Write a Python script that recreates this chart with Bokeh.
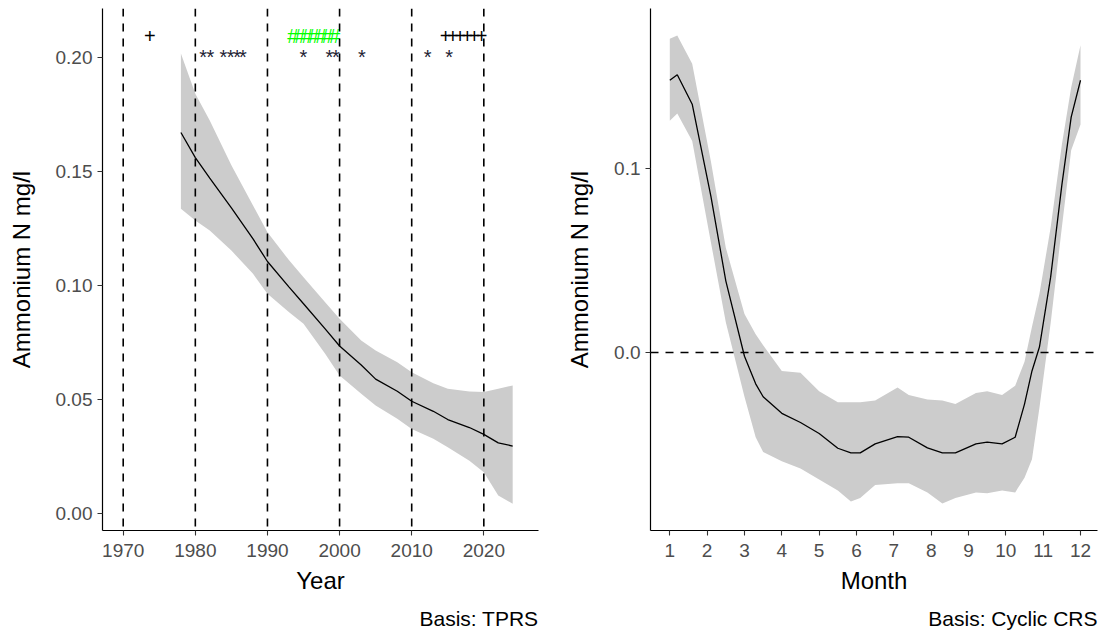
from bokeh.plotting import figure
from bokeh.layouts import row
from bokeh.models import Range1d, FixedTicker, Span, Title, NumeralTickFormatter
from bokeh.core.properties import value
from bokeh.embed import file_html
from bokeh.resources import INLINE

FONT = "Liberation Sans"

# ---------------- Left panel data (trend, Basis: TPRS) ----------------
years_fit = [1978, 1980, 1982, 1985, 1988, 1990, 1993, 1995, 1998, 2000,
             2003, 2005, 2008, 2010, 2013, 2015, 2018, 2020, 2022, 2024]
trend_fit = [0.167, 0.156, 0.147, 0.134, 0.1204, 0.1105, 0.0993, 0.092, 0.081, 0.0735,
             0.0652, 0.059, 0.0537, 0.0493, 0.0449, 0.0413, 0.0378, 0.0348, 0.0311, 0.0297]
trend_upper = [0.2016, 0.184, 0.1723, 0.1526, 0.135, 0.1233, 0.111, 0.1036, 0.0927, 0.0854,
               0.0759, 0.0715, 0.0664, 0.062, 0.0572, 0.0548, 0.0536, 0.0533, 0.0548, 0.0562]
trend_lower = [0.1336, 0.1285, 0.1241, 0.1153, 0.1051, 0.0964, 0.0883, 0.0832, 0.0701, 0.0606,
               0.0526, 0.0474, 0.0416, 0.0372, 0.0329, 0.0292, 0.0233, 0.0182, 0.008, 0.0044]

decade_lines = [1970, 1980, 1990, 2000, 2010, 2020]
year_ticks = [1970, 1980, 1990, 2000, 2010, 2020]

plus_years = [1973.7, 2014.7, 2015.7, 2016.7, 2017.7, 2018.7, 2019.7]
plus_level = 0.21
hash_years = [1993.5, 1994.5, 1995.5, 1996.4, 1997.4, 1998.3, 1999.3]
hash_level = 0.21
star_years = [1981.1, 1982.1, 1983.9, 1984.9, 1985.8, 1986.6, 1995.0,
              1998.6, 1999.5, 2003.1, 2012.2, 2015.2]
star_level = 0.20

left_y_ticks = [0.00, 0.05, 0.10, 0.15, 0.20]

# ---------------- Right panel data (season, Basis: Cyclic CRS) ----------------
months = [1.0, 1.2, 1.6, 2.1, 2.5, 3.0, 3.3, 3.5, 4.0, 4.5, 5.0, 5.5, 5.85, 6.1, 6.5,
          7.1, 7.4, 7.9, 8.3, 8.65, 9.2, 9.5, 9.9, 10.25, 10.5, 10.7, 10.9, 11.2, 11.5, 11.75, 12.0]
season_fit = [0.148, 0.151, 0.135, 0.085, 0.039, -0.002, -0.017, -0.024, -0.033, -0.038,
              -0.044, -0.052, -0.0545, -0.0545, -0.0496, -0.0457, -0.046, -0.0518, -0.0545,
              -0.0545, -0.0496, -0.0487, -0.0496, -0.046, -0.028, -0.010, 0.003, 0.041,
              0.091, 0.128, 0.148]
season_upper = [0.1705, 0.1723, 0.157, 0.104, 0.057, 0.021, 0.010, 0.004, -0.010, -0.011,
                -0.021, -0.027, -0.027, -0.027, -0.026, -0.019, -0.023, -0.0255, -0.026,
                -0.028, -0.022, -0.021, -0.023, -0.018, -0.005, 0.014, 0.032, 0.068,
                0.113, 0.144, 0.167]
season_lower = [0.126, 0.130, 0.115, 0.060, 0.0165, -0.024, -0.046, -0.054, -0.059, -0.063,
                -0.069, -0.075, -0.081, -0.079, -0.072, -0.071, -0.071, -0.076, -0.082,
                -0.079, -0.076, -0.0765, -0.075, -0.076, -0.068, -0.058, -0.030, 0.016,
                0.068, 0.110, 0.124]
month_ticks = [1, 2, 3, 4, 5, 6, 7, 8, 9, 10, 11, 12]
right_y_ticks = [0.0, 0.1]
zero_line = 0.0

BAND = "#CCCCCC"


def style(p):
    p.xgrid.visible = False
    p.ygrid.visible = False
    p.outline_line_color = None
    p.background_fill_color = "white"
    p.border_fill_color = "white"
    for ax in (p.xaxis[0], p.yaxis[0]):
        ax.axis_line_color = "black"
        ax.axis_line_width = 1.2
        ax.major_tick_line_color = "#333333"
        ax.major_tick_line_width = 1.1
        ax.major_tick_out = 5
        ax.major_tick_in = 0
        ax.minor_tick_line_color = None
        ax.major_label_text_font = FONT
        ax.major_label_text_font_size = "19px"
        ax.major_label_text_color = "#4D4D4D"
        ax.axis_label_text_font = FONT
        ax.axis_label_text_font_size = "24px"
        ax.axis_label_text_font_style = "normal"
        ax.axis_label_text_color = "black"
    p.xaxis[0].major_label_standoff = 8
    p.yaxis[0].major_label_standoff = 5
    p.xaxis[0].axis_label_standoff = 7
    p.yaxis[0].axis_label_standoff = 18


def caption(p, text):
    t = Title(text=text, align="right", text_font=FONT, text_font_size="21px",
              text_font_style="normal", text_color="black", standoff=16)
    p.add_layout(t, "below")


# ---------------- Left figure ----------------
p1 = figure(width=551, height=637, output_backend="svg", toolbar_location=None,
            x_range=Range1d(1967.13, 2027.58), y_range=Range1d(-0.0073, 0.2213),
            min_border_left=102, min_border_right=13, min_border_top=8, min_border_bottom=107)
style(p1)
p1.xaxis.axis_label = "Year"
p1.yaxis.axis_label = "Ammonium N mg/l"
p1.xaxis.ticker = FixedTicker(ticks=year_ticks)
p1.yaxis.ticker = FixedTicker(ticks=left_y_ticks)
p1.yaxis.formatter = NumeralTickFormatter(format="0.00")

p1.varea(x=years_fit, y1=trend_lower, y2=trend_upper, fill_color=BAND, fill_alpha=1.0)
for yr in decade_lines:
    p1.add_layout(Span(location=yr, dimension="height", line_color="black",
                       line_width=1.6, line_dash="8 7"))
p1.line(years_fit, trend_fit, line_color="black", line_width=1.3)

p1.text(x=plus_years, y=[plus_level] * len(plus_years), text=["+"] * len(plus_years),
        text_font=value(FONT), text_font_size="20px", text_align="center",
        text_baseline="middle", text_color="black", y_offset=2)
p1.text(x=hash_years, y=[hash_level] * len(hash_years), text=["#"] * len(hash_years),
        text_font=value(FONT), text_font_size="20px", text_align="center",
        text_baseline="middle", text_color="#00FF00", y_offset=2)
p1.text(x=star_years, y=[star_level] * len(star_years), text=["*"] * len(star_years),
        text_font=value(FONT), text_font_size="20px", text_align="center",
        text_baseline="middle", text_color="#222233")
caption(p1, "Basis: TPRS")

# ---------------- Right figure ----------------
p2 = figure(width=552, height=637, output_backend="svg", toolbar_location=None,
            x_range=Range1d(0.483, 12.455), y_range=Range1d(-0.0967, 0.187),
            min_border_left=99, min_border_right=6, min_border_top=8, min_border_bottom=107)
style(p2)
p2.xaxis.axis_label = "Month"
p2.yaxis.axis_label = "Ammonium N mg/l"
p2.xaxis.ticker = FixedTicker(ticks=month_ticks)
p2.yaxis.ticker = FixedTicker(ticks=right_y_ticks)
p2.yaxis.formatter = NumeralTickFormatter(format="0.0")

p2.varea(x=months, y1=season_lower, y2=season_upper, fill_color=BAND, fill_alpha=1.0)
p2.add_layout(Span(location=zero_line, dimension="width", line_color="black",
                   line_width=1.6, line_dash="8 7"))
p2.line(months, season_fit, line_color="black", line_width=1.3)
caption(p2, "Basis: Cyclic CRS")

layout = row(p1, p2)
open("out.html", "w").write(file_html(layout, INLINE))
